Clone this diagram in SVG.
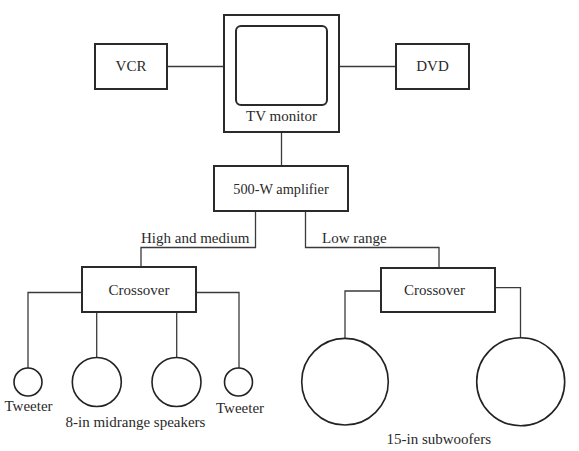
<svg xmlns="http://www.w3.org/2000/svg" width="579" height="451" viewBox="0 0 579 451">
<style>
.box{fill:#fff;stroke:#2a2a2a;stroke-width:2}
.spk{fill:#fff;stroke:#222;stroke-width:1.6}
.wire{fill:none;stroke:#3a3a3a;stroke-width:1.3}
text{font-family:"Liberation Serif","Times New Roman",serif;font-size:15px;fill:#2a2a2a}
.c{text-anchor:middle}
</style>
<rect width="579" height="451" fill="#fff"/>
<g id="connectors">
<line class="wire" x1="167" y1="66.5" x2="224" y2="66.5"/>
<line class="wire" x1="339" y1="66.5" x2="396" y2="66.5"/>
<line class="wire" x1="281.5" y1="132" x2="281.5" y2="166"/>
<polyline class="wire" points="255.5,211 255.5,247.5 141,247.5 141,267"/>
<polyline class="wire" points="305.5,211 305.5,247.5 439,247.5 439,268"/>
<polyline class="wire" points="82,292.5 28,292.5 28,368"/>
<polyline class="wire" points="196,292.5 239,292.5 239,368"/>
<line class="wire" x1="96.7" y1="312" x2="96.7" y2="357.5"/>
<line class="wire" x1="176.7" y1="312" x2="176.7" y2="357.5"/>
<polyline class="wire" points="381,291 345,291 345,338.5"/>
<polyline class="wire" points="495,287.7 520.5,287.7 520.5,338"/>
<text x="141" y="243">High and medium</text>
<text x="322" y="243">Low range</text>
</g>
<g id="vcr">
<rect class="box" x="95" y="44" width="72" height="45"/>
<text class="c" x="131" y="71">VCR</text>
</g>
<g id="tv">
<rect class="box" x="224" y="15" width="115" height="117"/>
<rect class="box" x="236" y="26" width="91" height="79" rx="5"/>
<text class="c" x="281.5" y="121">TV monitor</text>
</g>
<g id="dvd">
<rect class="box" x="396" y="44" width="73" height="45"/>
<text class="c" x="432.5" y="71">DVD</text>
</g>
<g id="amplifier">
<rect class="box" x="214" y="166" width="134" height="45"/>
<text class="c" x="281" y="194" style="font-size:14.3px">500-W amplifier</text>
</g>
<g id="crossover-left">
<rect class="box" x="82" y="267" width="114" height="45"/>
<text class="c" x="139" y="295">Crossover</text>
</g>
<g id="crossover-right">
<rect class="box" x="381" y="268" width="114" height="44"/>
<text class="c" x="434.5" y="295">Crossover</text>
</g>
<g id="tweeter-left">
<circle class="spk" cx="28" cy="382" r="14"/>
<text x="4.5" y="411">Tweeter</text>
</g>
<g id="midrange-1">
<circle class="spk" cx="96.8" cy="382" r="24.5"/>
</g>
<g id="midrange-2">
<circle class="spk" cx="176.5" cy="382" r="24.5"/>
</g>
<g id="tweeter-right">
<circle class="spk" cx="238.5" cy="382" r="14"/>
<text x="216" y="413">Tweeter</text>
</g>
<text x="65.5" y="427">8-in midrange speakers</text>
<g id="subwoofer-left">
<circle class="spk" cx="345" cy="381.7" r="43.3"/>
</g>
<g id="subwoofer-right">
<circle class="spk" cx="520.7" cy="381.7" r="44"/>
</g>
<text x="386.5" y="443.5">15-in subwoofers</text>
</svg>
